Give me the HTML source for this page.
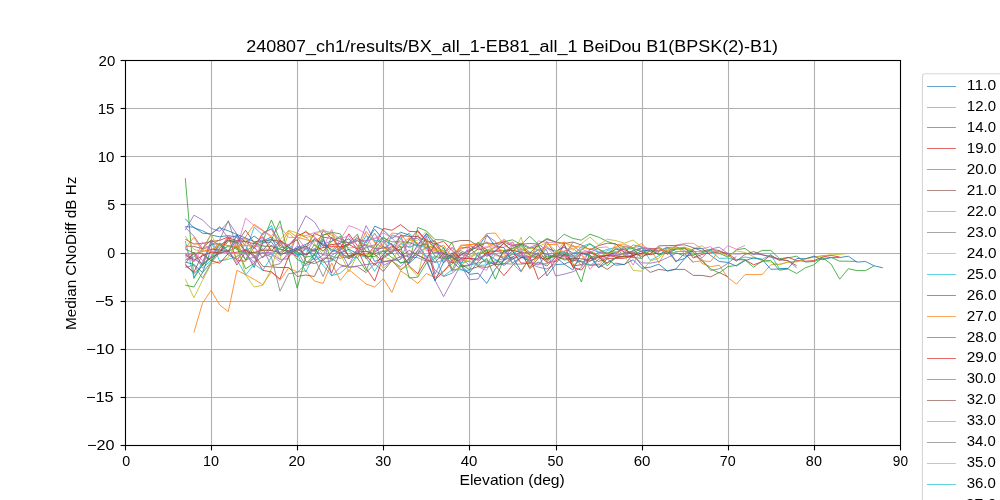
<!DOCTYPE html>
<html lang="en"><head><meta charset="utf-8"><title>Median CNoDiff vs Elevation</title>
<style>
html,body{margin:0;padding:0;background:#fff;}
body{width:1000px;height:500px;overflow:hidden;}
svg{display:block;will-change:transform;}
svg text{font-family:"Liberation Sans",sans-serif;fill:#000;}
.g{stroke:#b0b0b0;stroke-width:1.11;fill:none;}
.s{stroke:#000;stroke-width:1.11;fill:none;stroke-linecap:square;}
.t{stroke:#000;stroke-width:1.11;fill:none;}
.d{fill:none;stroke-width:0.82;stroke-linejoin:round;stroke-linecap:butt;}
.k{font-size:14.10px;}
.h{font-size:17.30px;}
</style></head>
<body>
<svg width="1000" height="500" viewBox="0 0 1000 500">
<rect x="0" y="0" width="1000" height="500" fill="#ffffff"/>
<defs><clipPath id="ax"><rect x="125" y="60" width="775" height="385"/></clipPath></defs>
<g class="g">
<line x1="211.5" y1="60" x2="211.5" y2="445"/><line x1="297.5" y1="60" x2="297.5" y2="445"/><line x1="383.5" y1="60" x2="383.5" y2="445"/><line x1="469.5" y1="60" x2="469.5" y2="445"/><line x1="556.5" y1="60" x2="556.5" y2="445"/><line x1="642.5" y1="60" x2="642.5" y2="445"/><line x1="728.5" y1="60" x2="728.5" y2="445"/><line x1="814.5" y1="60" x2="814.5" y2="445"/>
<line x1="125" y1="108.5" x2="900" y2="108.5"/><line x1="125" y1="156.5" x2="900" y2="156.5"/><line x1="125" y1="204.5" x2="900" y2="204.5"/><line x1="125" y1="253.5" x2="900" y2="253.5"/><line x1="125" y1="301.5" x2="900" y2="301.5"/><line x1="125" y1="349.5" x2="900" y2="349.5"/><line x1="125" y1="397.5" x2="900" y2="397.5"/>
</g>
<g class="d" clip-path="url(#ax)">
<polyline stroke="#1f77b4" points="185.3,218.8 193.9,227.8 202.5,230.8 211.1,235.0 219.7,236.8 228.3,235.6 236.9,237.1 245.6,251.9 254.2,267.6 262.8,242.9 271.4,241.9 280.0,254.2 288.6,247.5 297.2,254.6 305.8,254.7 314.4,248.5 323.1,260.7 331.7,252.6 340.3,242.8 348.9,238.8 357.5,249.1 366.1,244.7 374.7,261.5 383.3,258.0 391.9,252.5 400.6,263.4 409.2,259.3 417.8,244.6 426.4,233.4 435.0,242.8 443.6,247.6 452.2,261.9 460.8,269.2 469.4,272.8 478.1,261.5 486.7,254.2 495.3,259.4 503.9,265.5 512.5,258.9 521.1,255.9 529.7,257.3 538.3,249.4 546.9,254.6 555.6,256.9 564.2,264.1 572.8,260.3 581.4,252.5 590.0,256.2 598.6,257.1 607.2,255.6 615.8,255.5 624.4,254.1 633.1,253.3 641.7,248.0 650.3,248.4"/>
<polyline stroke="#ff7f0e" points="193.9,332.4 202.5,303.2 211.1,290.3 219.7,305.0 228.3,311.6 236.9,270.3 245.6,274.6 254.2,279.4 262.8,284.6 271.4,271.8 280.0,280.4 288.6,267.9 297.2,272.0 305.8,270.8 314.4,281.0 323.1,283.4 331.7,263.0 340.3,280.4 348.9,269.6 357.5,276.8 366.1,284.0 374.7,287.0 383.3,278.6 391.9,292.4 400.6,270.8 409.2,276.8 417.8,283.4 426.4,273.5 435.0,277.4 443.6,270.8 452.2,264.1 460.8,249.2 469.4,245.4 478.1,249.9 486.7,247.7 495.3,243.3 503.9,240.6 512.5,244.4 521.1,248.6 529.7,252.4 538.3,256.6 546.9,260.0 555.6,253.9 564.2,255.1 572.8,265.4 581.4,260.1 590.0,251.7 598.6,254.4 607.2,263.3 615.8,258.5 624.4,251.8 633.1,251.5 641.7,254.4 650.3,248.8 658.9,262.8 667.5,248.6 676.1,249.6 684.7,248.6 693.3,249.9 701.9,263.4 710.6,266.7 719.2,265.2 727.8,277.5 736.4,284.1 745.0,274.6 753.6,274.6 762.2,274.6 770.8,264.8 779.4,264.2 788.1,262.1 796.7,261.5 805.3,258.8 813.9,257.0 822.5,255.8 831.1,255.0"/>
<polyline stroke="#2ca02c" points="185.3,178.2 193.9,278.5 202.5,264.1 211.1,257.3 219.7,242.8 228.3,251.4 236.9,247.4 245.6,268.8 254.2,263.3 262.8,240.9 271.4,220.0 280.0,240.0 288.6,247.8 297.2,259.3 305.8,264.0 314.4,254.3 323.1,238.4 331.7,260.5 340.3,249.5 348.9,244.8 357.5,240.0 366.1,251.2 374.7,253.8 383.3,250.6 391.9,257.6 400.6,262.4 409.2,262.2 417.8,227.4 426.4,230.9 435.0,239.6 443.6,239.9 452.2,243.2 460.8,263.9 469.4,252.3 478.1,242.0 486.7,253.9 495.3,246.8 503.9,241.7 512.5,239.8 521.1,244.6 529.7,236.3 538.3,244.4 546.9,238.4 555.6,242.0 564.2,234.2 572.8,238.4 581.4,240.2 590.0,234.2 598.6,237.2 607.2,241.4 615.8,244.4 624.4,246.7 633.1,248.2 641.7,251.6 650.3,253.9 658.9,246.9 667.5,252.8 676.1,252.8 684.7,256.1 693.3,254.8 701.9,252.8 710.6,250.5 719.2,253.3 727.8,257.0 736.4,249.8 745.0,248.4 753.6,254.6 762.2,250.4 770.8,250.4 779.4,258.6 788.1,257.8 796.7,256.2 805.3,262.1 813.9,261.5 822.5,258.6 831.1,257.3 839.7,261.2 848.3,261.2 856.9,261.5"/>
<polyline stroke="#d62728" points="185.3,239.2 193.9,244.0 202.5,243.5 211.1,241.6 219.7,240.4 228.3,236.8 236.9,260.5 245.6,261.2 254.2,247.1 262.8,257.8 271.4,245.0 280.0,255.6 288.6,250.5 297.2,256.6 305.8,248.0 314.4,233.3 323.1,237.2 331.7,238.4 340.3,248.1 348.9,233.8 357.5,245.9 366.1,256.5 374.7,245.8 383.3,228.4 391.9,230.3 400.6,224.6 409.2,231.4 417.8,231.8 426.4,240.9 435.0,243.8 443.6,255.9 452.2,263.1 460.8,259.3 469.4,251.3 478.1,246.1 486.7,256.4 495.3,250.9 503.9,250.7 512.5,259.3 521.1,253.0 529.7,267.5 538.3,258.4 546.9,241.5 555.6,255.1 564.2,255.3 572.8,266.1 581.4,264.6 590.0,256.4 598.6,261.5 607.2,258.4 615.8,258.4 624.4,258.3 633.1,255.4 641.7,253.0 650.3,248.7 658.9,248.6 667.5,254.4 676.1,248.8 684.7,247.2 693.3,258.0 701.9,254.4 710.6,252.7 719.2,251.8 727.8,253.3 736.4,259.8 745.0,259.6 753.6,264.8 762.2,261.7 770.8,255.0 779.4,260.4 788.1,257.3 796.7,260.6 805.3,261.2 813.9,260.6 822.5,257.0 831.1,255.4 839.7,257.0"/>
<polyline stroke="#9467bd" points="185.3,230.2 193.9,215.2 202.5,220.0 211.1,228.4 219.7,231.3 228.3,221.7 236.9,234.2 245.6,253.6 254.2,262.4 262.8,256.5 271.4,254.0 280.0,259.4 288.6,258.7 297.2,233.2 305.8,215.8 314.4,221.9 323.1,236.0 331.7,276.1 340.3,267.0 348.9,265.1 357.5,248.3 366.1,225.6 374.7,240.9 383.3,265.4 391.9,261.2 400.6,266.7 409.2,258.0 417.8,254.6 426.4,236.0 435.0,274.3 443.6,256.6 452.2,256.6 460.8,257.3 469.4,258.4 478.1,258.8 486.7,235.4 495.3,241.4 503.9,260.1 512.5,254.1 521.1,255.7 529.7,261.6 538.3,265.1 546.9,254.3 555.6,253.2 564.2,245.3 572.8,256.2 581.4,262.1 590.0,258.9 598.6,252.0 607.2,252.9 615.8,253.8 624.4,247.2 633.1,256.4 641.7,262.8 650.3,263.2 658.9,261.5 667.5,257.6 676.1,253.3 684.7,253.9 693.3,250.4 701.9,258.0 710.6,249.0 719.2,247.2 727.8,253.5 736.4,254.1 745.0,253.5 753.6,254.1 762.2,254.6 770.8,257.3 779.4,259.7 788.1,260.6 796.7,267.8"/>
<polyline stroke="#8c564b" points="185.3,264.0 193.9,273.5 202.5,266.0 211.1,244.0 219.7,244.0 228.3,254.9 236.9,259.5 245.6,249.0 254.2,255.1 262.8,266.3 271.4,266.9 280.0,267.5 288.6,267.5 297.2,276.5 305.8,275.0 314.4,276.5 323.1,258.2 331.7,258.3 340.3,264.8 348.9,267.2 357.5,266.6 366.1,272.6 374.7,263.6 383.3,271.4 391.9,260.6 400.6,270.2 409.2,263.0 417.8,250.3 426.4,238.9 435.0,248.5 443.6,257.4 452.2,255.2 460.8,247.9 469.4,247.6 478.1,256.3 486.7,262.0 495.3,264.4 503.9,263.9 512.5,257.2 521.1,251.5 529.7,268.5 538.3,262.1 546.9,266.0 555.6,257.4 564.2,252.6 572.8,260.2 581.4,261.8 590.0,265.2 598.6,264.1 607.2,269.4 615.8,263.1 624.4,264.7 633.1,254.6 641.7,265.2 650.3,272.4 658.9,269.4 667.5,270.6 676.1,269.4 684.7,269.4 693.3,275.4 701.9,275.4 710.6,276.9 719.2,272.4 727.8,276.8"/>
<polyline stroke="#e377c2" points="185.3,247.6 193.9,262.0 202.5,248.6 211.1,249.3 219.7,251.4 228.3,235.2 236.9,247.7 245.6,218.2 254.2,225.6 262.8,230.8 271.4,235.7 280.0,226.6 288.6,237.4 297.2,237.4 305.8,248.7 314.4,239.1 323.1,247.7 331.7,229.4 340.3,255.4 348.9,243.0 357.5,240.0 366.1,240.6 374.7,238.7 383.3,232.8 391.9,238.0 400.6,247.4 409.2,246.6 417.8,234.7 426.4,250.8 435.0,249.9 443.6,258.2 452.2,247.6 460.8,261.2 469.4,257.5 478.1,253.8 486.7,249.9 495.3,247.8 503.9,247.3 512.5,241.7 521.1,253.6 529.7,260.0 538.3,240.9 546.9,242.6 555.6,242.9 564.2,253.1 572.8,253.6 581.4,248.8 590.0,252.9 598.6,247.6 607.2,246.9 615.8,255.0 624.4,245.9 633.1,247.6 641.7,246.2 650.3,251.2 658.9,248.1 667.5,253.3 676.1,245.4 684.7,243.3 693.3,243.3 701.9,249.0 710.6,246.6 719.2,254.4 727.8,245.6 736.4,249.2 745.0,245.4"/>
<polyline stroke="#7f7f7f" points="185.3,260.2 193.9,256.8 202.5,249.3 211.1,245.0 219.7,239.8 228.3,220.6 236.9,247.7 245.6,253.7 254.2,252.3 262.8,253.1 271.4,257.0 280.0,291.2 288.6,273.7 297.2,272.6 305.8,264.1 314.4,258.3 323.1,276.5 331.7,256.4 340.3,258.3 348.9,256.4 357.5,258.0 366.1,246.1 374.7,233.2 383.3,247.2 391.9,248.2 400.6,235.4 409.2,260.6 417.8,250.6 426.4,256.4 435.0,270.2 443.6,276.6 452.2,273.2 460.8,266.0 469.4,265.0 478.1,263.1 486.7,260.0 495.3,264.9 503.9,263.6 512.5,264.1 521.1,264.1 529.7,263.3 538.3,267.2 546.9,269.0 555.6,263.5 564.2,255.0 572.8,254.6 581.4,265.7 590.0,261.2 598.6,254.9 607.2,258.3 615.8,248.2 624.4,255.8 633.1,250.5 641.7,248.2 650.3,251.7 658.9,251.6 667.5,247.7 676.1,246.8 684.7,250.8 693.3,255.7 701.9,259.2 710.6,270.4 719.2,268.8 727.8,263.4 736.4,256.4"/>
<polyline stroke="#bcbd22" points="185.3,279.2 193.9,297.7 202.5,280.4 211.1,264.1 219.7,261.4 228.3,257.6 236.9,242.3 245.6,275.0 254.2,287.0 262.8,285.2 271.4,268.9 280.0,239.8 288.6,230.2 297.2,233.0 305.8,237.6 314.4,235.4 323.1,229.2 331.7,235.4 340.3,239.0 348.9,248.0 357.5,247.2 366.1,244.2 374.7,247.3 383.3,256.6 391.9,260.3 400.6,247.5 409.2,240.7 417.8,240.2 426.4,231.4 435.0,242.9 443.6,253.7 452.2,258.0 460.8,259.4 469.4,261.2 478.1,247.7 486.7,241.4 495.3,255.7 503.9,256.5 512.5,254.1 521.1,237.2 529.7,267.1 538.3,255.3 546.9,246.1 555.6,254.2 564.2,241.4 572.8,250.4 581.4,243.8 590.0,237.0 598.6,245.0 607.2,239.2 615.8,240.6 624.4,243.2 633.1,240.0 641.7,247.2 650.3,254.2 658.9,247.8 667.5,251.7 676.1,262.0 684.7,253.3 693.3,248.7 701.9,245.7 710.6,252.0 719.2,251.4 727.8,256.4 736.4,250.9 745.0,252.5 753.6,256.6 762.2,260.6 770.8,262.1 779.4,264.8 788.1,262.1 796.7,261.9 805.3,258.8 813.9,257.3 822.5,255.8 831.1,254.9 839.7,254.4 848.3,253.4"/>
<polyline stroke="#17becf" points="185.3,240.9 193.9,277.5 202.5,262.1 211.1,241.4 219.7,261.1 228.3,259.3 236.9,256.6 245.6,251.2 254.2,227.2 262.8,235.0 271.4,225.4 280.0,247.7 288.6,246.6 297.2,253.5 305.8,272.0 314.4,254.0 323.1,265.4 331.7,275.6 340.3,273.2 348.9,265.4 357.5,254.6 366.1,257.3 374.7,271.4 383.3,256.4 391.9,234.8 400.6,238.3 409.2,233.2 417.8,244.8 426.4,248.0 435.0,262.7 443.6,260.1 452.2,257.5 460.8,262.8 469.4,261.2 478.1,265.4 486.7,265.0 495.3,250.3 503.9,243.2 512.5,251.1 521.1,258.0 529.7,254.2 538.3,249.8 546.9,261.7 555.6,252.6 564.2,254.5 572.8,256.1 581.4,246.7 590.0,243.5 598.6,252.5 607.2,249.4 615.8,247.5 624.4,252.1 633.1,244.9 641.7,247.0 650.3,260.3 658.9,255.8 667.5,247.8 676.1,251.5 684.7,251.5 693.3,251.5 701.9,251.7 710.6,250.8 719.2,258.3 727.8,258.2 736.4,260.0 745.0,257.0 753.6,258.3 762.2,259.4 770.8,254.6 779.4,268.7 788.1,268.4"/>
<polyline stroke="#1f77b4" points="185.3,226.6 193.9,227.2 202.5,233.2 211.1,233.8 219.7,227.8 228.3,230.8 236.9,234.4 245.6,238.1 254.2,241.7 262.8,241.1 271.4,237.0 280.0,254.1 288.6,252.6 297.2,249.6 305.8,245.8 314.4,259.8 323.1,240.2 331.7,251.8 340.3,248.5 348.9,243.4 357.5,238.4 366.1,242.9 374.7,226.1 383.3,230.0 391.9,238.4 400.6,232.2 409.2,235.1 417.8,245.6 426.4,234.2 435.0,247.7 443.6,262.9 452.2,255.2 460.8,255.2 469.4,250.6 478.1,246.7 486.7,234.6 495.3,246.2 503.9,247.6 512.5,263.0 521.1,257.2 529.7,260.7 538.3,257.7 546.9,248.4 555.6,251.2 564.2,247.3 572.8,253.1 581.4,252.6 590.0,256.9 598.6,267.7 607.2,262.6 615.8,257.6 624.4,256.0 633.1,255.7 641.7,250.8 650.3,250.1 658.9,254.3 667.5,250.8 676.1,261.0 684.7,258.5 693.3,248.7 701.9,248.4 710.6,255.4 719.2,261.5 727.8,262.4 736.4,266.0 745.0,260.6 753.6,257.8 762.2,259.4 770.8,269.3 779.4,269.0 788.1,268.4 796.7,258.5 805.3,258.8 813.9,256.2 822.5,259.7 831.1,257.6 839.7,257.6 848.3,256.2 856.9,262.1 865.6,261.5 874.2,265.8 882.8,267.8"/>
<polyline stroke="#ff7f0e" points="185.3,253.9 193.9,254.3 202.5,251.4 211.1,249.3 219.7,247.1 228.3,237.1 236.9,250.0 245.6,236.8 254.2,224.4 262.8,230.2 271.4,237.4 280.0,242.9 288.6,253.4 297.2,233.2 305.8,237.3 314.4,245.4 323.1,251.2 331.7,244.0 340.3,250.0 348.9,244.7 357.5,236.5 366.1,251.7 374.7,250.8 383.3,244.2 391.9,233.1 400.6,233.8 409.2,244.5 417.8,235.7 426.4,246.6 435.0,251.2 443.6,250.4 452.2,260.1 460.8,246.1 469.4,244.7 478.1,243.8 486.7,233.6 495.3,233.0 503.9,244.4 512.5,250.6 521.1,251.6 529.7,247.6 538.3,249.7 546.9,261.8 555.6,252.4 564.2,251.2 572.8,248.3 581.4,255.3 590.0,265.7 598.6,265.0 607.2,256.8 615.8,244.5 624.4,244.1 633.1,247.7 641.7,243.6 650.3,251.5 658.9,250.2 667.5,251.2 676.1,246.5 684.7,253.7 693.3,261.9 701.9,260.8 710.6,261.5 719.2,250.4"/>
<polyline stroke="#2ca02c" points="185.3,285.2 193.9,287.0 202.5,272.6 211.1,262.1 219.7,248.1 228.3,240.3 236.9,241.4 245.6,251.0 254.2,245.7 262.8,240.8 271.4,240.0 280.0,220.8 288.6,257.3 297.2,288.2 305.8,257.0 314.4,244.6 323.1,251.1 331.7,241.3 340.3,236.3 348.9,258.2 357.5,253.4 366.1,256.3 374.7,256.6 383.3,251.0 391.9,251.2 400.6,246.2 409.2,278.0 417.8,277.1 426.4,263.0 435.0,258.3 443.6,247.5 452.2,269.5 460.8,252.2 469.4,257.3 478.1,265.4 486.7,258.3 495.3,279.2 503.9,259.2 512.5,250.9 521.1,245.6 529.7,255.1 538.3,257.5 546.9,259.3 555.6,253.7 564.2,251.7 572.8,263.4 581.4,282.0 590.0,251.4 598.6,256.1 607.2,265.8 615.8,257.4 624.4,256.4 633.1,257.6 641.7,258.4 650.3,249.6 658.9,254.9 667.5,252.9 676.1,248.1 684.7,248.7 693.3,252.2 701.9,261.0 710.6,268.8 719.2,273.0 727.8,266.6 736.4,265.4 745.0,260.0 753.6,267.2 762.2,261.0 770.8,260.4 779.4,270.2 788.1,269.0 796.7,273.5 805.3,267.8 813.9,264.8 822.5,257.6 831.1,264.1 839.7,279.2 848.3,268.7 856.9,270.6 865.6,270.6 874.2,265.8"/>
<polyline stroke="#d62728" points="185.3,265.6 193.9,272.1 202.5,254.3 211.1,260.6 219.7,263.2 228.3,253.4 236.9,252.2 245.6,250.1 254.2,256.4 262.8,270.4 271.4,271.9 280.0,278.9 288.6,256.2 297.2,248.7 305.8,254.8 314.4,250.1 323.1,247.6 331.7,246.6 340.3,246.9 348.9,244.4 357.5,249.1 366.1,268.3 374.7,281.0 383.3,256.6 391.9,251.2 400.6,249.6 409.2,240.0 417.8,230.4 426.4,240.9 435.0,279.7 443.6,271.8 452.2,260.7 460.8,254.9 469.4,249.5 478.1,243.9 486.7,249.7 495.3,265.4 503.9,275.6 512.5,265.4 521.1,257.7 529.7,256.4 538.3,279.4 546.9,271.8 555.6,260.2 564.2,243.8 572.8,267.3 581.4,270.1 590.0,258.1 598.6,257.7 607.2,255.4 615.8,252.4 624.4,249.1 633.1,255.1 641.7,253.7 650.3,254.7 658.9,252.8"/>
<polyline stroke="#9467bd" points="185.3,227.5 193.9,236.1 202.5,248.8 211.1,234.4 219.7,226.6 228.3,238.1 236.9,235.5 245.6,245.9 254.2,258.4 262.8,252.3 271.4,252.7 280.0,249.1 288.6,251.9 297.2,248.2 305.8,254.6 314.4,238.3 323.1,244.1 331.7,241.1 340.3,238.0 348.9,243.3 357.5,241.0 366.1,245.3 374.7,248.6 383.3,248.4 391.9,243.5 400.6,254.5 409.2,257.0 417.8,257.7 426.4,261.2 435.0,280.4 443.6,296.6 452.2,280.7 460.8,264.8 469.4,279.8 478.1,279.0 486.7,264.1 495.3,262.4 503.9,260.8 512.5,245.3 521.1,243.2 529.7,247.5 538.3,244.1 546.9,250.6 555.6,276.0 564.2,274.2 572.8,271.8 581.4,267.6 590.0,248.7 598.6,252.4 607.2,253.8 615.8,255.1 624.4,254.0 633.1,250.6 641.7,247.7 650.3,248.8 658.9,251.2 667.5,246.9 676.1,262.1 684.7,253.3 693.3,262.8"/>
<polyline stroke="#8c564b" points="185.3,246.1 193.9,246.4 202.5,248.7 211.1,239.8 219.7,245.4 228.3,240.1 236.9,242.9 245.6,230.2 254.2,242.9 262.8,250.7 271.4,240.3 280.0,241.0 288.6,247.5 297.2,251.1 305.8,246.1 314.4,251.5 323.1,230.7 331.7,238.4 340.3,241.7 348.9,242.6 357.5,234.2 366.1,258.9 374.7,252.1 383.3,246.4 391.9,253.5 400.6,235.3 409.2,236.5 417.8,236.6 426.4,241.7 435.0,240.8 443.6,254.4 452.2,242.2 460.8,240.5 469.4,240.5 478.1,245.8 486.7,242.8 495.3,243.9 503.9,242.0 512.5,245.9 521.1,244.2 529.7,243.5 538.3,244.1 546.9,239.5 555.6,241.9 564.2,243.5 572.8,242.0 581.4,245.0 590.0,249.8 598.6,245.6 607.2,243.2 615.8,243.8 624.4,252.6 633.1,252.7 641.7,256.4 650.3,253.9 658.9,245.8 667.5,245.6 676.1,245.4 684.7,244.8 693.3,247.7 701.9,251.1 710.6,249.5 719.2,250.5 727.8,255.0 736.4,261.2 745.0,254.4 753.6,251.6 762.2,254.9 770.8,256.4 779.4,259.2 788.1,260.9 796.7,265.7"/>
<polyline stroke="#e377c2" points="185.3,256.3 193.9,252.5 202.5,260.4 211.1,256.0 219.7,254.0 228.3,250.0 236.9,262.9 245.6,242.5 254.2,247.1 262.8,244.4 271.4,255.0 280.0,261.7 288.6,254.9 297.2,254.4 305.8,246.9 314.4,255.1 323.1,259.2 331.7,251.2 340.3,240.2 348.9,225.5 357.5,228.8 366.1,234.2 374.7,253.1 383.3,240.9 391.9,237.3 400.6,236.2 409.2,255.8 417.8,246.8 426.4,256.1 435.0,252.5 443.6,252.5 452.2,247.3 460.8,254.8 469.4,257.3 478.1,266.9 486.7,270.2 495.3,254.1 503.9,258.9 512.5,242.0 521.1,254.8 529.7,257.5 538.3,249.5 546.9,247.1 555.6,257.1 564.2,257.0 572.8,256.4 581.4,252.7 590.0,269.4 598.6,259.1 607.2,257.6 615.8,252.9 624.4,249.7 633.1,265.2 641.7,246.9 650.3,249.4"/>
<polyline stroke="#7f7f7f" points="185.3,267.4 193.9,265.1 202.5,278.2 211.1,263.0 219.7,252.4 228.3,241.2 236.9,242.8 245.6,259.9 254.2,257.0 262.8,248.5 271.4,265.8 280.0,263.7 288.6,252.0 297.2,251.0 305.8,265.7 314.4,261.1 323.1,255.1 331.7,237.1 340.3,247.6 348.9,255.8 357.5,250.9 366.1,247.9 374.7,244.8 383.3,236.9 391.9,245.0 400.6,258.5 409.2,254.4 417.8,253.0 426.4,247.3 435.0,246.7 443.6,258.7 452.2,253.5 460.8,250.6 469.4,254.9 478.1,249.0 486.7,250.8 495.3,250.9 503.9,253.1 512.5,248.4 521.1,244.7 529.7,252.2 538.3,254.8 546.9,258.4 555.6,254.9 564.2,256.3 572.8,242.4"/>
<polyline stroke="#bcbd22" points="185.3,236.1 193.9,249.3 202.5,251.7 211.1,233.9 219.7,252.5 228.3,246.3 236.9,256.9 245.6,238.9 254.2,252.6 262.8,250.6 271.4,248.7 280.0,259.0 288.6,233.0 297.2,240.8 305.8,230.7 314.4,243.5 323.1,254.9 331.7,247.5 340.3,253.5 348.9,272.0 357.5,254.4 366.1,254.8 374.7,254.0 383.3,268.4 391.9,260.6 400.6,268.4 409.2,266.9 417.8,276.6 426.4,239.2 435.0,250.3 443.6,251.1 452.2,270.8 460.8,267.2 469.4,256.1 478.1,253.0 486.7,252.0 495.3,246.6 503.9,251.2 512.5,248.7 521.1,247.7 529.7,255.8 538.3,246.2 546.9,243.0 555.6,250.6 564.2,251.6 572.8,245.1 581.4,252.4 590.0,256.6 598.6,257.3 607.2,253.3 615.8,251.5 624.4,255.4 633.1,270.4 641.7,271.2 650.3,261.0 658.9,258.3 667.5,248.2 676.1,248.6 684.7,247.2 693.3,250.1"/>
<polyline stroke="#17becf" points="185.3,260.1 193.9,254.3 202.5,268.0 211.1,260.3 219.7,243.5 228.3,252.5 236.9,259.7 245.6,275.1 254.2,264.1 262.8,270.3 271.4,256.9 280.0,242.8 288.6,244.5 297.2,255.4 305.8,249.4 314.4,255.0 323.1,262.3 331.7,261.0 340.3,254.8 348.9,256.4 357.5,250.5 366.1,235.8 374.7,240.5 383.3,241.4 391.9,253.0 400.6,243.6 409.2,247.0 417.8,243.9 426.4,257.2 435.0,256.9 443.6,276.2 452.2,269.6 460.8,269.9 469.4,270.3 478.1,252.4 486.7,264.6 495.3,260.6 503.9,258.8 512.5,254.0 521.1,249.0 529.7,263.2 538.3,263.0 546.9,264.0 555.6,256.4 564.2,252.0 572.8,257.9 581.4,261.4 590.0,265.4 598.6,259.5 607.2,250.4 615.8,252.6"/>
<polyline stroke="#1f77b4" points="185.3,262.1 193.9,264.4 202.5,272.7 211.1,249.2 219.7,249.9 228.3,252.1 236.9,235.0 245.6,242.2 254.2,236.1 262.8,242.4 271.4,239.0 280.0,245.2 288.6,251.2 297.2,248.1 305.8,244.3 314.4,239.9 323.1,244.4 331.7,249.7 340.3,253.0 348.9,249.3 357.5,253.6 366.1,240.9 374.7,229.2 383.3,240.0 391.9,244.5 400.6,253.8 409.2,263.3 417.8,255.3 426.4,259.2 435.0,281.0 443.6,262.1 452.2,252.7 460.8,264.8 469.4,274.4 478.1,273.2 486.7,283.4 495.3,269.0 503.9,260.2 512.5,256.8 521.1,271.2 529.7,258.1 538.3,252.5 546.9,276.0 555.6,264.6 564.2,264.1 572.8,270.0 581.4,253.5 590.0,254.9 598.6,267.6 607.2,258.9 615.8,265.2 624.4,264.3 633.1,259.8 641.7,268.2 650.3,267.2 658.9,264.2 667.5,271.2 676.1,268.8 684.7,258.6 693.3,250.5"/>
<polyline stroke="#ff7f0e" points="185.3,247.9 193.9,237.4 202.5,251.2 211.1,250.9 219.7,243.4 228.3,245.8 236.9,246.5 245.6,245.0 254.2,247.1 262.8,232.6 271.4,229.1 280.0,246.3 288.6,231.0 297.2,237.1 305.8,239.7 314.4,241.8 323.1,235.0 331.7,233.1 340.3,256.4 348.9,258.2 357.5,250.4 366.1,231.2 374.7,242.7 383.3,248.1 391.9,249.7 400.6,244.4 409.2,237.9 417.8,243.3 426.4,244.7 435.0,249.0 443.6,245.2 452.2,257.5 460.8,245.1 469.4,244.7 478.1,243.5 486.7,243.5 495.3,245.4 503.9,254.2 512.5,263.4 521.1,272.1 529.7,256.8 538.3,258.3 546.9,244.6 555.6,244.5 564.2,242.3 572.8,246.1 581.4,247.4 590.0,249.0 598.6,249.2 607.2,254.7 615.8,246.8 624.4,247.2"/>
<polyline stroke="#2ca02c" points="185.3,249.0 193.9,253.0 202.5,253.3 211.1,260.8 219.7,251.2 228.3,245.7 236.9,248.0 245.6,259.9 254.2,242.6 262.8,246.1 271.4,246.4 280.0,248.8 288.6,252.0 297.2,252.0 305.8,257.1 314.4,255.5 323.1,235.1 331.7,232.3 340.3,233.9 348.9,250.5 357.5,258.0 366.1,270.8 374.7,248.8 383.3,237.9 391.9,241.8 400.6,241.9 409.2,242.3 417.8,246.2 426.4,243.6 435.0,256.1 443.6,258.6 452.2,257.4 460.8,266.8 469.4,265.6 478.1,255.2 486.7,250.4 495.3,265.7 503.9,250.9 512.5,248.3 521.1,244.6 529.7,248.4 538.3,246.2 546.9,257.0 555.6,255.6 564.2,260.0 572.8,259.0 581.4,249.8 590.0,243.9 598.6,249.1 607.2,253.6 615.8,249.4 624.4,249.0 633.1,248.7 641.7,258.6"/>
<polyline stroke="#d62728" points="185.3,255.2 193.9,260.2 202.5,255.8 211.1,252.2 219.7,252.6 228.3,237.9 236.9,240.6 245.6,241.5 254.2,243.8 262.8,236.9 271.4,251.2 280.0,240.4 288.6,246.1 297.2,236.0 305.8,231.9 314.4,236.8 323.1,246.0 331.7,244.6 340.3,243.5 348.9,256.3 357.5,253.6 366.1,255.4 374.7,265.4 383.3,254.4 391.9,245.7 400.6,251.0 409.2,266.0 417.8,273.8 426.4,259.2 435.0,244.0 443.6,241.3 452.2,250.8 460.8,258.7 469.4,258.3 478.1,260.1 486.7,252.6 495.3,251.4 503.9,243.3 512.5,251.2 521.1,263.1 529.7,263.0 538.3,254.8 546.9,262.4 555.6,261.6 564.2,254.1 572.8,261.7 581.4,253.3 590.0,252.7 598.6,256.5 607.2,255.4 615.8,256.9 624.4,256.9 633.1,256.4"/>
<polyline stroke="#9467bd" points="185.3,253.8 193.9,259.3 202.5,263.8 211.1,241.1 219.7,253.4 228.3,250.8 236.9,240.5 245.6,237.4 254.2,248.7 262.8,233.5 271.4,228.5 280.0,241.6 288.6,254.3 297.2,246.2 305.8,248.6 314.4,250.4 323.1,254.9 331.7,255.4 340.3,249.9 348.9,267.2 400.6,259.4 409.2,238.9 417.8,238.3 426.4,248.2 435.0,252.9 443.6,252.6 452.2,271.4 460.8,257.8 469.4,265.4 478.1,258.0 486.7,254.9 495.3,253.7 503.9,258.6 512.5,250.9"/>
<polyline stroke="#8c564b" points="185.3,263.5 193.9,252.3 202.5,265.3 211.1,257.8 219.7,253.1 228.3,250.0 236.9,265.1 245.6,252.0 254.2,252.5 262.8,250.2 271.4,250.5 280.0,252.4 288.6,244.7 297.2,239.7 305.8,261.6 314.4,263.5 323.1,259.8 331.7,272.8 340.3,251.8 348.9,258.9 357.5,252.0 366.1,251.4 374.7,254.4 383.3,261.5 391.9,260.4 400.6,256.7 409.2,250.4 417.8,254.9 426.4,260.0 435.0,262.2 443.6,253.4 452.2,256.4 460.8,263.9 469.4,269.6 478.1,266.5 486.7,267.4 495.3,264.1 503.9,251.2 512.5,250.2 521.1,252.7 529.7,252.9 538.3,245.0 546.9,259.1 555.6,256.3 564.2,258.9 572.8,258.3 581.4,258.7 590.0,261.0 598.6,257.1 607.2,263.4"/>
<polyline stroke="#e377c2" points="185.3,257.5 193.9,261.2 202.5,241.8 211.1,251.6 219.7,251.2 228.3,252.9 236.9,253.3 245.6,253.9 254.2,264.8 262.8,236.6 271.4,246.8 280.0,243.3 288.6,245.1 297.2,235.4 305.8,235.7 314.4,232.6 323.1,230.8 331.7,232.5 340.3,239.0 348.9,235.5 357.5,252.3 366.1,241.5 374.7,238.1 383.3,239.3 391.9,252.4 400.6,239.1 409.2,248.1 417.8,242.9 426.4,260.1 435.0,256.8 443.6,259.8 452.2,261.5 460.8,261.7 469.4,245.3 478.1,248.4 486.7,246.8 495.3,247.0 503.9,239.0 512.5,245.8 521.1,250.5 529.7,261.3 538.3,264.4 546.9,263.6 555.6,260.0 564.2,251.5 572.8,246.1 581.4,252.0 590.0,251.1"/>
</g>
<g class="t">
<line x1="125.5" y1="445.5" x2="125.5" y2="450.4"/><line x1="211.5" y1="445.5" x2="211.5" y2="450.4"/><line x1="297.5" y1="445.5" x2="297.5" y2="450.4"/><line x1="383.5" y1="445.5" x2="383.5" y2="450.4"/><line x1="469.5" y1="445.5" x2="469.5" y2="450.4"/><line x1="556.5" y1="445.5" x2="556.5" y2="450.4"/><line x1="642.5" y1="445.5" x2="642.5" y2="450.4"/><line x1="728.5" y1="445.5" x2="728.5" y2="450.4"/><line x1="814.5" y1="445.5" x2="814.5" y2="450.4"/><line x1="900.5" y1="445.5" x2="900.5" y2="450.4"/>
<line x1="120.6" y1="60.5" x2="125.5" y2="60.5"/><line x1="120.6" y1="108.5" x2="125.5" y2="108.5"/><line x1="120.6" y1="156.5" x2="125.5" y2="156.5"/><line x1="120.6" y1="204.5" x2="125.5" y2="204.5"/><line x1="120.6" y1="253.5" x2="125.5" y2="253.5"/><line x1="120.6" y1="301.5" x2="125.5" y2="301.5"/><line x1="120.6" y1="349.5" x2="125.5" y2="349.5"/><line x1="120.6" y1="397.5" x2="125.5" y2="397.5"/><line x1="120.6" y1="445.5" x2="125.5" y2="445.5"/>
</g>
<rect class="s" x="125.5" y="60.5" width="775" height="385"/>
<text class="k" x="122.22" y="466.00" textLength="7.95" lengthAdjust="spacingAndGlyphs">0</text>
<text class="k" x="203.10" y="466.00" textLength="16.02" lengthAdjust="spacingAndGlyphs">10</text>
<text class="k" x="288.47" y="466.00" textLength="16.70" lengthAdjust="spacingAndGlyphs">20</text>
<text class="k" x="375.38" y="466.00" textLength="15.90" lengthAdjust="spacingAndGlyphs">30</text>
<text class="k" x="460.69" y="466.00" textLength="16.70" lengthAdjust="spacingAndGlyphs">40</text>
<text class="k" x="547.61" y="466.00" textLength="15.90" lengthAdjust="spacingAndGlyphs">50</text>
<text class="k" x="633.65" y="466.00" textLength="16.82" lengthAdjust="spacingAndGlyphs">60</text>
<text class="k" x="719.83" y="466.00" textLength="15.90" lengthAdjust="spacingAndGlyphs">70</text>
<text class="k" x="805.88" y="466.00" textLength="16.02" lengthAdjust="spacingAndGlyphs">80</text>
<text class="k" x="892.79" y="466.00" textLength="15.22" lengthAdjust="spacingAndGlyphs">90</text>
<text class="k" x="86.95" y="450.00" textLength="27.52" lengthAdjust="spacingAndGlyphs">−20</text>
<text class="k" x="86.03" y="401.88" textLength="27.65" lengthAdjust="spacingAndGlyphs">−15</text>
<text class="k" x="86.03" y="353.75" textLength="28.45" lengthAdjust="spacingAndGlyphs">−10</text>
<text class="k" x="94.90" y="305.62" textLength="18.77" lengthAdjust="spacingAndGlyphs">−5</text>
<text class="k" x="107.33" y="257.50" textLength="7.95" lengthAdjust="spacingAndGlyphs">0</text>
<text class="k" x="107.33" y="210.18" textLength="7.95" lengthAdjust="spacingAndGlyphs">5</text>
<text class="k" x="97.65" y="162.05" textLength="16.82" lengthAdjust="spacingAndGlyphs">10</text>
<text class="k" x="97.65" y="113.92" textLength="16.82" lengthAdjust="spacingAndGlyphs">15</text>
<text class="k" x="98.58" y="65.80" textLength="16.70" lengthAdjust="spacingAndGlyphs">20</text>
<text class="h" x="246.19" y="51.87" textLength="531.83" lengthAdjust="spacingAndGlyphs">240807_ch1/results/BX_all_1-EB81_all_1 BeiDou B1(BPSK(2)-B1)</text>
<text class="k" x="459.44" y="485.28" textLength="105.33" lengthAdjust="spacingAndGlyphs">Elevation (deg)</text>
<text class="k" transform="translate(75.80,329.93) rotate(-90)" x="0" y="0" textLength="153.25" lengthAdjust="spacingAndGlyphs">Median CNoDiff dB Hz</text>
<rect x="922.44" y="73.74" width="80.88" height="632.50" rx="2.78" ry="2.78" fill="#ffffff" fill-opacity="0.8" stroke="#cccccc" stroke-opacity="0.8" stroke-width="1.11"/>
<g class="d" style="stroke-width:0.694">
<line stroke="#1f77b4" x1="927.00" y1="86.5" x2="955.88" y2="86.5"/><line stroke="#ff7f0e" x1="927.00" y1="107.5" x2="955.88" y2="107.5"/><line stroke="#2ca02c" x1="927.00" y1="127.5" x2="955.88" y2="127.5"/><line stroke="#d62728" x1="927.00" y1="148.5" x2="955.88" y2="148.5"/><line stroke="#9467bd" x1="927.00" y1="169.5" x2="955.88" y2="169.5"/><line stroke="#8c564b" x1="927.00" y1="190.5" x2="955.88" y2="190.5"/><line stroke="#e377c2" x1="927.00" y1="211.5" x2="955.88" y2="211.5"/><line stroke="#7f7f7f" x1="927.00" y1="232.5" x2="955.88" y2="232.5"/><line stroke="#bcbd22" x1="927.00" y1="253.5" x2="955.88" y2="253.5"/><line stroke="#17becf" x1="927.00" y1="274.5" x2="955.88" y2="274.5"/><line stroke="#1f77b4" x1="927.00" y1="295.5" x2="955.88" y2="295.5"/><line stroke="#ff7f0e" x1="927.00" y1="316.5" x2="955.88" y2="316.5"/><line stroke="#2ca02c" x1="927.00" y1="337.5" x2="955.88" y2="337.5"/><line stroke="#d62728" x1="927.00" y1="358.5" x2="955.88" y2="358.5"/><line stroke="#9467bd" x1="927.00" y1="379.5" x2="955.88" y2="379.5"/><line stroke="#8c564b" x1="927.00" y1="400.5" x2="955.88" y2="400.5"/><line stroke="#e377c2" x1="927.00" y1="421.5" x2="955.88" y2="421.5"/><line stroke="#7f7f7f" x1="927.00" y1="442.5" x2="955.88" y2="442.5"/><line stroke="#bcbd22" x1="927.00" y1="463.5" x2="955.88" y2="463.5"/><line stroke="#17becf" x1="927.00" y1="484.5" x2="955.88" y2="484.5"/><line stroke="#1f77b4" x1="927.00" y1="504.5" x2="955.88" y2="504.5"/>
</g>
<text class="k" x="966.89" y="89.70" textLength="29.27" lengthAdjust="spacingAndGlyphs">11.0</text>
<text class="k" x="966.89" y="111.44" textLength="29.15" lengthAdjust="spacingAndGlyphs">12.0</text>
<text class="k" x="966.89" y="132.39" textLength="29.15" lengthAdjust="spacingAndGlyphs">14.0</text>
<text class="k" x="966.89" y="153.33" textLength="29.27" lengthAdjust="spacingAndGlyphs">19.0</text>
<text class="k" x="966.69" y="174.28" textLength="29.82" lengthAdjust="spacingAndGlyphs">20.0</text>
<text class="k" x="966.69" y="195.22" textLength="29.95" lengthAdjust="spacingAndGlyphs">21.0</text>
<text class="k" x="966.69" y="216.17" textLength="29.82" lengthAdjust="spacingAndGlyphs">22.0</text>
<text class="k" x="966.69" y="237.11" textLength="29.82" lengthAdjust="spacingAndGlyphs">23.0</text>
<text class="k" x="966.69" y="258.06" textLength="29.82" lengthAdjust="spacingAndGlyphs">24.0</text>
<text class="k" x="966.69" y="279.00" textLength="29.82" lengthAdjust="spacingAndGlyphs">25.0</text>
<text class="k" x="966.69" y="299.94" textLength="29.95" lengthAdjust="spacingAndGlyphs">26.0</text>
<text class="k" x="966.69" y="320.89" textLength="29.82" lengthAdjust="spacingAndGlyphs">27.0</text>
<text class="k" x="966.69" y="341.83" textLength="29.95" lengthAdjust="spacingAndGlyphs">28.0</text>
<text class="k" x="966.69" y="361.98" textLength="29.95" lengthAdjust="spacingAndGlyphs">29.0</text>
<text class="k" x="966.69" y="382.92" textLength="29.02" lengthAdjust="spacingAndGlyphs">30.0</text>
<text class="k" x="966.69" y="403.87" textLength="29.02" lengthAdjust="spacingAndGlyphs">32.0</text>
<text class="k" x="966.69" y="424.81" textLength="29.02" lengthAdjust="spacingAndGlyphs">33.0</text>
<text class="k" x="966.69" y="445.76" textLength="29.02" lengthAdjust="spacingAndGlyphs">34.0</text>
<text class="k" x="966.69" y="466.70" textLength="29.02" lengthAdjust="spacingAndGlyphs">35.0</text>
<text class="k" x="966.69" y="488.44" textLength="29.15" lengthAdjust="spacingAndGlyphs">36.0</text>
<text class="k" x="965.89" y="508.59" textLength="30.62" lengthAdjust="spacingAndGlyphs">37.0</text>
</svg>
</body></html>
